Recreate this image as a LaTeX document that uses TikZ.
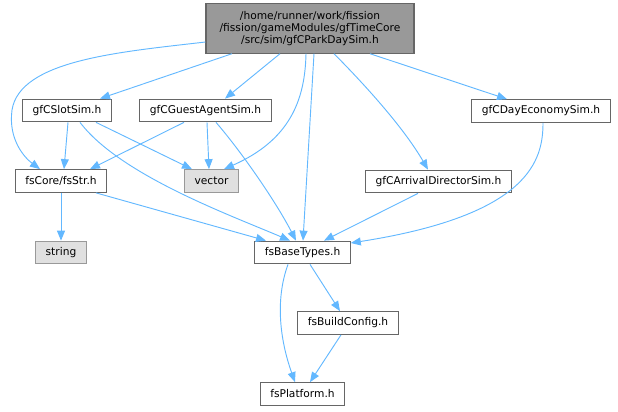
\documentclass[tikz,border=0pt]{standalone}
\usepackage{fontspec}
\setmainfont{DejaVu Sans}
\usetikzlibrary{arrows.meta}
\definecolor{edgeblue}{HTML}{63B8FF}
\definecolor{boxline}{HTML}{666666}
\definecolor{rootfill}{HTML}{999999}
\definecolor{sysfill}{HTML}{E0E0E0}
\definecolor{sysline}{HTML}{999999}
\begin{document}
\begin{tikzpicture}[x=0.75pt, y=-0.75pt, font=\fontsize{8}{9.2}\selectfont,
	file/.style={draw=boxline, line width=0.8pt, rectangle, minimum height=17pt, inner xsep=7.5pt, inner ysep=1pt},
	sys/.style={file, draw=sysline, fill=sysfill},
	dep/.style={draw=edgeblue, line width=0.7pt, -{Stealth[length=7.5pt, width=6pt, inset=0pt]}}]
	\useasboundingbox (0,0) rectangle (618,411);
	\node[file, fill=rootfill, align=center, minimum width=156pt, minimum height=37pt, inner xsep=4pt] (root) at (310, 28.5) {/home/runner/work/fission\\/fission/gameModules/gfTimeCore\\/src/sim/gfCParkDaySim.h};
	\node[file] (slot) at (67, 110.5) {gfCSlotSim.h};
	\node[file] (guest) at (205.5, 110.5) {gfCGuestAgentSim.h};
	\node[file] (day) at (541, 111) {gfCDayEconomySim.h};
	\node[file] (str) at (61, 181) {fsCore/fsStr.h};
	\node[sys] (vector) at (211.5, 181) {vector};
	\node[file] (arrival) at (438.5, 181.5) {gfCArrivalDirectorSim.h};
	\node[sys] (string) at (61, 252.5) {string};
	\node[file] (base) at (302.5, 252.5) {fsBaseTypes.h};
	\node[file] (build) at (348, 323) {fsBuildConfig.h};
	\node[file] (platform) at (302.5, 394) {fsPlatform.h};

	\draw[dep] (root.west |- 0,42) .. controls (120,52) and (20,60) .. (12,110) .. controls (8,140) and (25,158) .. (str.north -| 40,0);
	\draw[dep] (root.south -| 232,0) to (slot.north -| 100,0);
	\draw[dep] (root.south -| 280,0) to (guest.north -| 225,0);
	\draw[dep] (root.south -| 306,0) .. controls (305,100) and (290,140) .. (vector.north -| 224,0);
	\draw[dep] (root.south -| 314,0) to (base.north -| 303,0);
	\draw[dep] (root.south -| 334,0) .. controls (370,90) and (405,130) .. (arrival.north -| 428,0);
	\draw[dep] (root.south -| 370,0) to (day.north -| 507,0);

	\draw[dep] (slot.south -| 68,0) to (str.north -| 64,0);
	\draw[dep] (slot.south -| 96,0) to (vector.north -| 192,0);
	\draw[dep] (slot.south -| 80,0) .. controls (120,175) and (230,215) .. (base.north -| 290,0);
	\draw[dep] (guest.south -| 184,0) to (str.north -| 90,0);
	\draw[dep] (guest.south -| 207,0) to (vector.north -| 209,0);
	\draw[dep] (guest.south -| 216,0) .. controls (240,150) and (275,200) .. (base.north -| 296,0);
	\draw[dep] (str.south -| 61,0) to (string.north -| 61,0);
	\draw[dep] (str.south -| 96,0) to (base.north -| 266,0);
	\draw[dep] (arrival.south -| 418,0) to (base.north -| 324,0);
	\draw[dep] (day.south -| 543,0) .. controls (543,160) and (530,215) .. (base.east |- 0,243);
	\draw[dep] (base.south -| 310,0) to (build.north -| 340,0);
	\draw[dep] (base.south -| 288,0) .. controls (275,300) and (280,340) .. (platform.north -| 295,0);
	\draw[dep] (build.south -| 341,0) to (platform.north -| 310,0);
\end{tikzpicture}
\end{document}
